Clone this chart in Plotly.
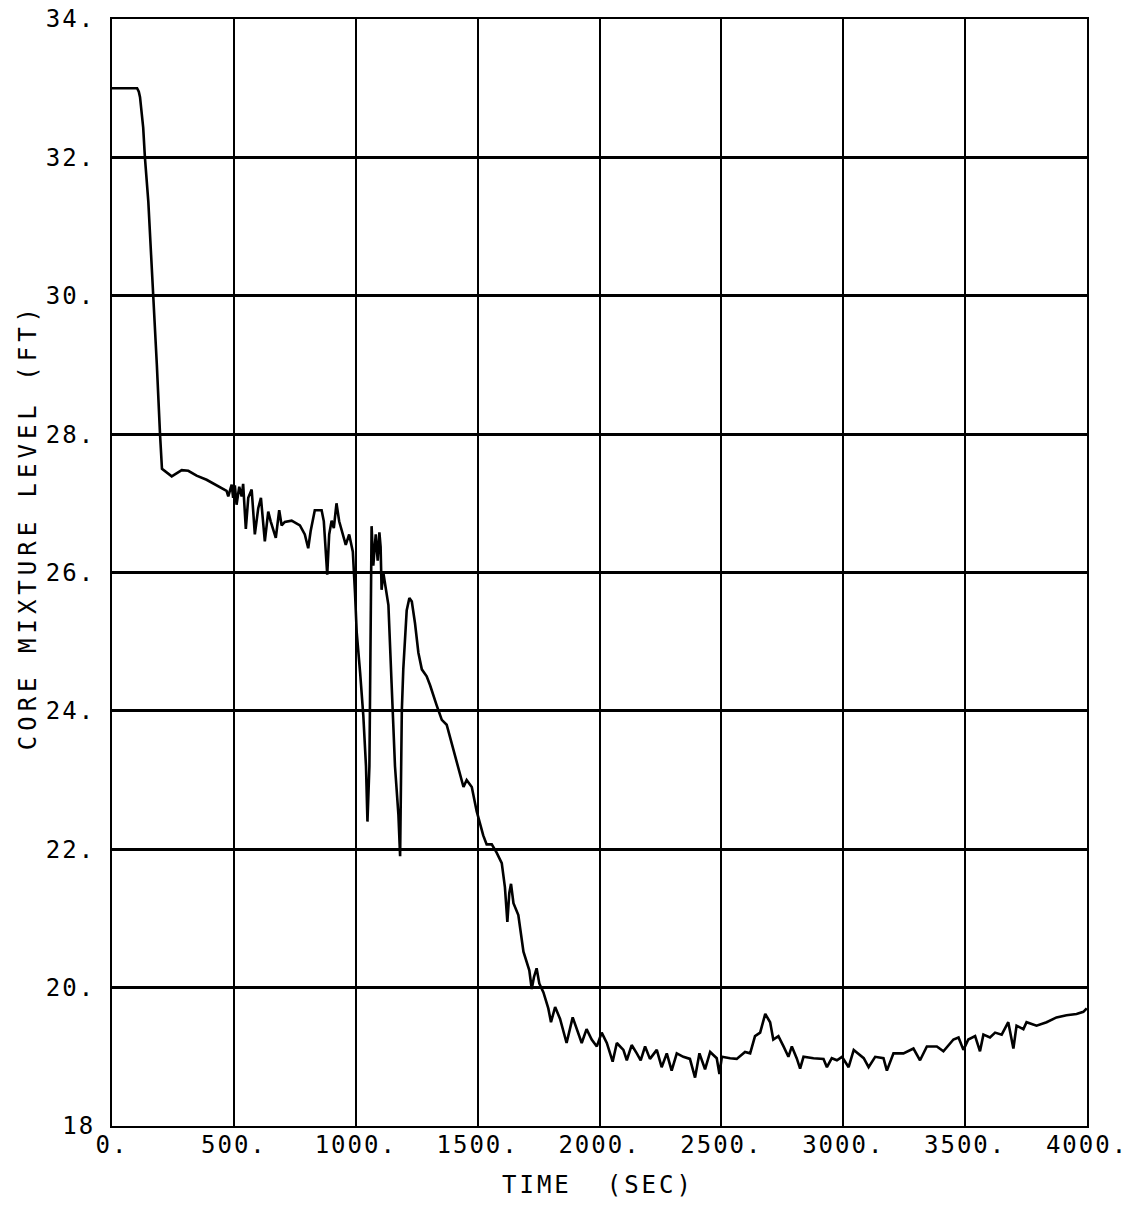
import plotly.graph_objects as go

# ---- data ----
time_s = [0, 103, 110, 115, 128, 135, 149, 170, 184, 197, 205,
          245, 286, 313, 347, 388, 436, 470, 477, 491, 497, 504, 511, 522, 532, 538,
          549, 559, 573, 586, 600, 611, 627, 641, 651, 659, 672, 686, 696, 709, 737,
          771, 791, 805, 815, 832, 860, 869, 883, 891, 901, 910, 921, 932, 946, 959,
          973, 988, 997, 1004, 1018, 1031, 1042, 1048, 1056, 1061, 1065, 1072, 1082,
          1090, 1097, 1102, 1106, 1113, 1120, 1134, 1147, 1161, 1175, 1182, 1189,
          1195, 1209, 1220, 1230, 1243, 1257, 1271, 1291, 1305, 1332, 1353, 1373,
          1401, 1421, 1442, 1455, 1476, 1496, 1523, 1537, 1558, 1578, 1599, 1612,
          1622, 1630, 1637, 1647, 1667, 1688, 1712, 1722, 1731, 1742, 1753, 1770,
          1790, 1801, 1818, 1838, 1865, 1890, 1906, 1927, 1947, 1968, 1989, 2009,
          2030, 2054, 2071, 2098, 2112, 2132, 2153, 2169, 2187, 2207, 2235, 2255,
          2276, 2296, 2317, 2344, 2371, 2392, 2410, 2433, 2454, 2481, 2492, 2502,
          2536, 2563, 2597, 2618, 2638, 2659, 2680, 2700, 2713, 2734, 2755, 2775,
          2789, 2809, 2823, 2837, 2878, 2919, 2933, 2953, 2974, 2995, 3022, 3043,
          3084, 3104, 3131, 3165, 3179, 3206, 3247, 3288, 3315, 3343, 3384, 3411,
          3452, 3473, 3493, 3513, 3541, 3561, 3575, 3602, 3623, 3650, 3677, 3698,
          3711, 3739, 3752, 3793, 3834, 3875, 3916, 3957, 3985, 3999]

level_ft = [33.0, 33.0, 32.95, 32.87, 32.43, 32.0, 31.36, 30.0, 29.0, 28.0, 27.5,
            27.39, 27.48, 27.47, 27.4, 27.34, 27.25, 27.18, 27.1, 27.27, 27.08, 27.26, 26.98, 27.24, 27.1, 27.28,
            26.63, 27.08, 27.2, 26.55, 26.93, 27.08, 26.45, 26.88, 26.74, 26.64, 26.5, 26.9, 26.68, 26.73, 26.75,
            26.68, 26.55, 26.35, 26.6, 26.9, 26.9, 26.74, 25.97, 26.55, 26.75, 26.64, 27.0, 26.74, 26.55, 26.4,
            26.55, 26.3, 25.7, 25.13, 24.55, 23.93, 23.2, 22.4, 23.2, 25.6, 26.67, 26.1, 26.55,
            26.17, 26.58, 26.37, 25.75, 26.0, 25.86, 25.53, 24.4, 23.2, 22.5, 21.9, 24.0,
            24.6, 25.45, 25.63, 25.58, 25.27, 24.84, 24.6, 24.5, 24.37, 24.08, 23.87, 23.8,
            23.45, 23.2, 22.9, 23.0, 22.9, 22.55, 22.2, 22.07, 22.07, 21.95, 21.8, 21.45,
            20.95, 21.37, 21.5, 21.22, 21.05, 20.52, 20.25, 19.98, 20.15, 20.28, 20.06, 19.93,
            19.7, 19.5, 19.72, 19.55, 19.2, 19.57, 19.4, 19.2, 19.4, 19.25, 19.15, 19.35,
            19.2, 18.93, 19.2, 19.1, 18.95, 19.17, 19.05, 18.95, 19.15, 18.97, 19.1, 18.85,
            19.05, 18.8, 19.05, 19.0, 18.97, 18.7, 19.05, 18.82, 19.07, 18.98, 18.75, 19.0,
            18.98, 18.97, 19.07, 19.05, 19.3, 19.35, 19.62, 19.5, 19.25, 19.3, 19.15, 19.0,
            19.15, 18.98, 18.83, 19.0, 18.98, 18.97, 18.85, 18.98, 18.95, 19.0, 18.85, 19.1,
            18.98, 18.85, 19.0, 18.98, 18.8, 19.05, 19.05, 19.12, 18.95, 19.15, 19.15, 19.08,
            19.25, 19.28, 19.1, 19.25, 19.3, 19.08, 19.32, 19.28, 19.35, 19.32, 19.5, 19.12,
            19.45, 19.4, 19.5, 19.45, 19.5, 19.57, 19.6, 19.62, 19.65, 19.7]

x_tick_vals = [0, 500, 1000, 1500, 2000, 2500, 3000, 3500, 4000]
x_tick_text = ["0.", "500.", "1000.", "1500.", "2000.", "2500.", "3000.", "3500.", "4000."]
y_tick_vals = [18, 20, 22, 24, 26, 28, 30, 32, 34]
y_tick_text = ["18", "20.", "22.", "24.", "26.", "28.", "30.", "32.", "34."]

x_title = "TIME  (SEC)"
y_title = "CORE MIXTURE LEVEL (FT)"

# ---- figure ----
FONT = "DejaVu Sans Mono"
FS = 24


def spaced(s, px):
    return '<span style="letter-spacing:%dpx">%s</span>' % (px, s)


fig = go.Figure()
fig.add_trace(go.Scatter(x=time_s, y=level_ft, mode="lines",
                         line=dict(color="black", width=2.6),
                         showlegend=False, hoverinfo="skip"))

fig.update_layout(
    width=1146, height=1206,
    margin=dict(l=112, r=59, t=19, b=80),
    paper_bgcolor="white", plot_bgcolor="white",
    font=dict(family=FONT, size=FS, color="black"),
    xaxis=dict(range=[0, 4000], tickvals=x_tick_vals,
               ticktext=[spaced(t, 2) for t in x_tick_text],
               showgrid=True, gridcolor="black", gridwidth=2,
               showline=True, linecolor="black", linewidth=2, mirror=True,
               zeroline=False, ticks="", ticklabelstandoff=-4, automargin=False,
               tickfont=dict(family=FONT, size=FS, color="black")),
    yaxis=dict(range=[18, 34], tickvals=y_tick_vals,
               ticktext=[spaced(t, 2) for t in y_tick_text],
               showgrid=True, gridcolor="black", gridwidth=3,
               showline=True, linecolor="black", linewidth=2, mirror=True,
               zeroline=False, ticks="", ticklabelstandoff=10, automargin=False,
               tickfont=dict(family=FONT, size=FS, color="black")),
    annotations=[
        dict(text=spaced(x_title, 3), xref="paper", yref="paper",
             x=0.498, y=-0.053, xanchor="center", yanchor="middle",
             showarrow=False, font=dict(family=FONT, size=FS, color="black")),
        dict(text=spaced(y_title, 5), xref="paper", yref="paper",
             x=-0.086, y=0.541, xanchor="center", yanchor="middle", textangle=-90,
             showarrow=False, font=dict(family=FONT, size=FS, color="black")),
    ],
)

fig.write_html("out.html")
